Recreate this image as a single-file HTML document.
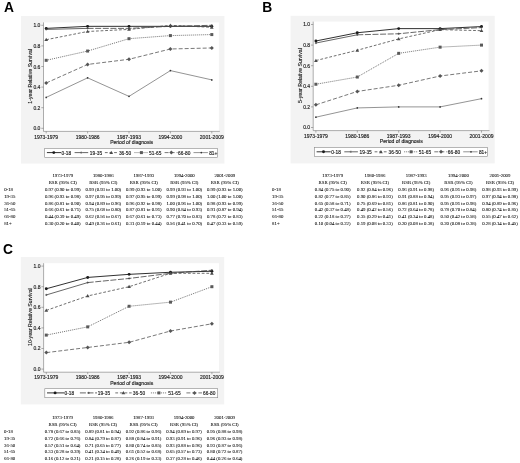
<!DOCTYPE html>
<html><head><meta charset="utf-8"><title>Relative survival figure</title>
<style>html,body{margin:0;padding:0;background:#fff;width:520px;height:463px;overflow:hidden} svg{display:block;filter:grayscale(1)}</style>
</head><body>
<svg width="520" height="463" viewBox="0 0 520 463"><style>.ax{font-family:"Liberation Sans",sans-serif;font-size:5.0px;fill:#222;stroke:#222;stroke-width:0.15px} .tb text{font-family:"Liberation Serif",serif;font-size:4.8px;fill:#000;stroke:#000;stroke-width:0.05px} .lb{font-family:"Liberation Sans",sans-serif;font-weight:bold;font-size:13.8px;fill:#000}</style><rect width="520" height="463" fill="#fff"/><rect x="21.0" y="16.0" width="203.40" height="147.60" fill="#f3f3f3"/>
<g transform="translate(0,0)">
<rect x="43.5" y="22.4" width="175.4" height="109.0" fill="#fff"/>
<path d="M43.5 22.4V131.4H219.8" fill="none" stroke="#777" stroke-width="0.6"/>
<path d="M41.3 128.30H43.5" stroke="#777" stroke-width="0.6"/>
<text x="40.4" y="130.30" text-anchor="end" class="ax">0.0</text>
<path d="M41.3 107.70H43.5" stroke="#777" stroke-width="0.6"/>
<text x="40.4" y="109.70" text-anchor="end" class="ax">0.2</text>
<path d="M41.3 87.10H43.5" stroke="#777" stroke-width="0.6"/>
<text x="40.4" y="89.10" text-anchor="end" class="ax">0.4</text>
<path d="M41.3 66.50H43.5" stroke="#777" stroke-width="0.6"/>
<text x="40.4" y="68.50" text-anchor="end" class="ax">0.6</text>
<path d="M41.3 45.90H43.5" stroke="#777" stroke-width="0.6"/>
<text x="40.4" y="47.90" text-anchor="end" class="ax">0.8</text>
<path d="M41.3 25.30H43.5" stroke="#777" stroke-width="0.6"/>
<text x="40.4" y="27.30" text-anchor="end" class="ax">1.0</text>
<path d="M46.2 131.4V133.4" stroke="#777" stroke-width="0.6"/>
<text x="46.2" y="138.7" text-anchor="middle" class="ax">1973-1979</text>
<path d="M87.6 131.4V133.4" stroke="#777" stroke-width="0.6"/>
<text x="87.6" y="138.7" text-anchor="middle" class="ax">1980-1986</text>
<path d="M129.0 131.4V133.4" stroke="#777" stroke-width="0.6"/>
<text x="129.0" y="138.7" text-anchor="middle" class="ax">1987-1993</text>
<path d="M170.4 131.4V133.4" stroke="#777" stroke-width="0.6"/>
<text x="170.4" y="138.7" text-anchor="middle" class="ax">1994-2000</text>
<path d="M211.8 131.4V133.4" stroke="#777" stroke-width="0.6"/>
<text x="211.8" y="138.7" text-anchor="middle" class="ax">2001-2009</text>
<text x="131.6" y="144.0" text-anchor="middle" class="ax" style="font-size:5.05px">Period of diagnosis</text>
<text transform="translate(31.9,76.3) rotate(-90)" text-anchor="middle" class="ax" style="font-size:5.2px">1-year Relative Survival</text>
<path d="M46.20 28.39L87.60 26.33L129.00 26.33L170.40 26.33L211.80 26.33" fill="none" stroke="#1a1a1a" stroke-width="0.9" stroke-linejoin="round"/>
<circle cx="46.20" cy="28.39" r="1.45" fill="#1a1a1a"/>
<circle cx="87.60" cy="26.33" r="1.45" fill="#1a1a1a"/>
<circle cx="129.00" cy="26.33" r="1.45" fill="#1a1a1a"/>
<circle cx="170.40" cy="26.33" r="1.45" fill="#1a1a1a"/>
<circle cx="211.80" cy="26.33" r="1.45" fill="#1a1a1a"/>
<path d="M46.20 29.42L87.60 28.39" fill="none" stroke="#404040" stroke-width="0.8" stroke-linejoin="round"/>
<path d="M87.60 28.39L129.00 28.39L170.40 26.33L211.80 25.30" fill="none" stroke="#404040" stroke-width="0.8" stroke-dasharray="6,1.6" stroke-linejoin="round"/>
<path d="M45.10 29.42H47.30M46.20 28.32V30.52" stroke="#404040" stroke-width="0.7" fill="none"/>
<path d="M86.50 28.39H88.70M87.60 27.29V29.49" stroke="#404040" stroke-width="0.7" fill="none"/>
<path d="M127.90 28.39H130.10M129.00 27.29V29.49" stroke="#404040" stroke-width="0.7" fill="none"/>
<path d="M169.30 26.33H171.50M170.40 25.23V27.43" stroke="#404040" stroke-width="0.7" fill="none"/>
<path d="M210.70 25.30H212.90M211.80 24.20V26.40" stroke="#404040" stroke-width="0.7" fill="none"/>
<path d="M46.20 39.72L87.60 31.48L129.00 29.42L170.40 25.30L211.80 27.36" fill="none" stroke="#4a4a4a" stroke-width="0.8" stroke-dasharray="2.8,1.8" stroke-linejoin="round"/>
<path d="M46.20 37.87L48.05 41.11L44.35 41.11Z" fill="#4a4a4a"/>
<path d="M87.60 29.63L89.45 32.87L85.75 32.87Z" fill="#4a4a4a"/>
<path d="M129.00 27.57L130.85 30.81L127.15 30.81Z" fill="#4a4a4a"/>
<path d="M170.40 23.45L172.25 26.69L168.55 26.69Z" fill="#4a4a4a"/>
<path d="M211.80 25.51L213.65 28.75L209.95 28.75Z" fill="#4a4a4a"/>
<path d="M46.20 60.32L87.60 51.05L129.00 38.69L170.40 35.60L211.80 34.57" fill="none" stroke="#5a5a5a" stroke-width="0.85" stroke-dasharray="1,1" stroke-linejoin="round"/>
<rect x="44.70" y="58.82" width="3.00" height="3.00" fill="#5a5a5a"/>
<rect x="86.10" y="49.55" width="3.00" height="3.00" fill="#5a5a5a"/>
<rect x="127.50" y="37.19" width="3.00" height="3.00" fill="#5a5a5a"/>
<rect x="168.90" y="34.10" width="3.00" height="3.00" fill="#5a5a5a"/>
<rect x="210.30" y="33.07" width="3.00" height="3.00" fill="#5a5a5a"/>
<path d="M46.20 82.98L87.60 64.44L129.00 59.29L170.40 48.99L211.80 47.96" fill="none" stroke="#555" stroke-width="0.8" stroke-dasharray="4,2" stroke-linejoin="round"/>
<path d="M46.20 80.98L48.20 82.98L46.20 84.98L44.20 82.98Z" fill="#555"/>
<path d="M87.60 62.44L89.60 64.44L87.60 66.44L85.60 64.44Z" fill="#555"/>
<path d="M129.00 57.29L131.00 59.29L129.00 61.29L127.00 59.29Z" fill="#555"/>
<path d="M170.40 46.99L172.40 48.99L170.40 50.99L168.40 48.99Z" fill="#555"/>
<path d="M211.80 45.96L213.80 47.96L211.80 49.96L209.80 47.96Z" fill="#555"/>
<path d="M46.20 97.40L87.60 77.83L129.00 96.37L170.40 70.62L211.80 79.89" fill="none" stroke="#666" stroke-width="0.7" stroke-linejoin="round"/>
<circle cx="46.20" cy="97.40" r="0.85" fill="#333"/>
<circle cx="87.60" cy="77.83" r="0.85" fill="#333"/>
<circle cx="129.00" cy="96.37" r="0.85" fill="#333"/>
<circle cx="170.40" cy="70.62" r="0.85" fill="#333"/>
<circle cx="211.80" cy="79.89" r="0.85" fill="#333"/>
<g transform="translate(0,0)">
<rect x="44.7" y="148.4" width="172.9" height="9.0" fill="#fff" stroke="#888" stroke-width="0.6"/>
<path d="M46.90 152.60L61.00 152.60" fill="none" stroke="#1a1a1a" stroke-width="0.9" stroke-linejoin="round"/>
<circle cx="53.80" cy="152.60" r="1.45" fill="#1a1a1a"/>
<text x="61.50" y="154.90" class="ax" style="font-size:4.8px">0-18</text>
<path d="M74.60 152.60L88.20 152.60" fill="none" stroke="#404040" stroke-width="0.8" stroke-dasharray="6,1.6" stroke-linejoin="round"/>
<path d="M80.10 152.60H82.30M81.20 151.50V153.70" stroke="#404040" stroke-width="0.7" fill="none"/>
<text x="89.80" y="154.90" class="ax" style="font-size:4.8px">19-35</text>
<path d="M104.90 152.60L117.30 152.60" fill="none" stroke="#4a4a4a" stroke-width="0.8" stroke-dasharray="2.8,1.8" stroke-linejoin="round"/>
<path d="M111.25 150.75L113.10 153.99L109.40 153.99Z" fill="#4a4a4a"/>
<text x="118.90" y="154.90" class="ax" style="font-size:4.8px">36-50</text>
<path d="M134.50 152.60L148.00 152.60" fill="none" stroke="#5a5a5a" stroke-width="0.85" stroke-dasharray="1,1" stroke-linejoin="round"/>
<rect x="139.90" y="151.10" width="3.00" height="3.00" fill="#5a5a5a"/>
<text x="149.10" y="154.90" class="ax" style="font-size:4.8px">51-65</text>
<path d="M164.60 152.60L177.60 152.60" fill="none" stroke="#555" stroke-width="0.8" stroke-dasharray="4,2" stroke-linejoin="round"/>
<path d="M171.30 150.60L173.30 152.60L171.30 154.60L169.30 152.60Z" fill="#555"/>
<text x="178.10" y="154.90" class="ax" style="font-size:4.8px">66-80</text>
<path d="M193.50 152.60L207.90 152.60" fill="none" stroke="#666" stroke-width="0.7" stroke-linejoin="round"/>
<circle cx="201.30" cy="152.60" r="0.85" fill="#333"/>
<text x="209.20" y="154.90" class="ax" style="font-size:4.8px">81+</text>
</g>
</g><g transform="translate(0,0)" class="tb">
<text x="62.8" y="177.3" text-anchor="middle">1973-1979</text>
<text x="62.8" y="184.3" text-anchor="middle">RSR (95% CI)</text>
<text x="103.3" y="177.3" text-anchor="middle">1980-1986</text>
<text x="103.3" y="184.3" text-anchor="middle">RSR (95% CI)</text>
<text x="143.8" y="177.3" text-anchor="middle">1987-1993</text>
<text x="143.8" y="184.3" text-anchor="middle">RSR (95% CI)</text>
<text x="184.3" y="177.3" text-anchor="middle">1994-2000</text>
<text x="184.3" y="184.3" text-anchor="middle">RSR (95% CI)</text>
<text x="224.8" y="177.3" text-anchor="middle">2001-2009</text>
<text x="224.8" y="184.3" text-anchor="middle">RSR (95% CI)</text>
<text x="4.2" y="191.10">0-18</text>
<text x="62.8" y="191.10" text-anchor="middle">0.97 (0.90 to 0.99)</text>
<text x="103.3" y="191.10" text-anchor="middle">0.99 (0.93 to 1.00)</text>
<text x="143.8" y="191.10" text-anchor="middle">0.99 (0.93 to 1.00)</text>
<text x="184.3" y="191.10" text-anchor="middle">0.99 (0.93 to 1.00)</text>
<text x="224.8" y="191.10" text-anchor="middle">0.99 (0.93 to 1.00)</text>
<text x="4.2" y="197.85">19-35</text>
<text x="62.8" y="197.85" text-anchor="middle">0.96 (0.93 to 0.98)</text>
<text x="103.3" y="197.85" text-anchor="middle">0.97 (0.95 to 0.99)</text>
<text x="143.8" y="197.85" text-anchor="middle">0.97 (0.95 to 0.99)</text>
<text x="184.3" y="197.85" text-anchor="middle">0.99 (0.98 to 1.00)</text>
<text x="224.8" y="197.85" text-anchor="middle">1.00 (1.00 to 1.00)</text>
<text x="4.2" y="204.60">36-50</text>
<text x="62.8" y="204.60" text-anchor="middle">0.86 (0.81 to 0.90)</text>
<text x="103.3" y="204.60" text-anchor="middle">0.94 (0.89 to 0.96)</text>
<text x="143.8" y="204.60" text-anchor="middle">0.96 (0.92 to 0.98)</text>
<text x="184.3" y="204.60" text-anchor="middle">1.00 (0.96 to 1.00)</text>
<text x="224.8" y="204.60" text-anchor="middle">0.98 (0.93 to 0.99)</text>
<text x="4.2" y="211.35">51-65</text>
<text x="62.8" y="211.35" text-anchor="middle">0.66 (0.61 to 0.71)</text>
<text x="103.3" y="211.35" text-anchor="middle">0.75 (0.68 to 0.80)</text>
<text x="143.8" y="211.35" text-anchor="middle">0.87 (0.81 to 0.91)</text>
<text x="184.3" y="211.35" text-anchor="middle">0.90 (0.84 to 0.93)</text>
<text x="224.8" y="211.35" text-anchor="middle">0.91 (0.87 to 0.94)</text>
<text x="4.2" y="218.10">66-80</text>
<text x="62.8" y="218.10" text-anchor="middle">0.44 (0.39 to 0.49)</text>
<text x="103.3" y="218.10" text-anchor="middle">0.62 (0.56 to 0.67)</text>
<text x="143.8" y="218.10" text-anchor="middle">0.67 (0.61 to 0.73)</text>
<text x="184.3" y="218.10" text-anchor="middle">0.77 (0.70 to 0.83)</text>
<text x="224.8" y="218.10" text-anchor="middle">0.78 (0.72 to 0.83)</text>
<text x="4.2" y="224.85">81+</text>
<text x="62.8" y="224.85" text-anchor="middle">0.30 (0.20 to 0.40)</text>
<text x="103.3" y="224.85" text-anchor="middle">0.49 (0.36 to 0.61)</text>
<text x="143.8" y="224.85" text-anchor="middle">0.31 (0.19 to 0.44)</text>
<text x="184.3" y="224.85" text-anchor="middle">0.56 (0.41 to 0.70)</text>
<text x="224.8" y="224.85" text-anchor="middle">0.47 (0.33 to 0.59)</text>
</g><rect x="290.6" y="15.8" width="204.10" height="147.60" fill="#f3f3f3"/>
<g transform="translate(269.7,-0.8)">
<rect x="43.5" y="22.4" width="175.4" height="109.0" fill="#fff"/>
<path d="M43.5 22.4V131.4H219.8" fill="none" stroke="#777" stroke-width="0.6"/>
<path d="M41.3 128.30H43.5" stroke="#777" stroke-width="0.6"/>
<text x="40.4" y="130.30" text-anchor="end" class="ax">0.0</text>
<path d="M41.3 107.70H43.5" stroke="#777" stroke-width="0.6"/>
<text x="40.4" y="109.70" text-anchor="end" class="ax">0.2</text>
<path d="M41.3 87.10H43.5" stroke="#777" stroke-width="0.6"/>
<text x="40.4" y="89.10" text-anchor="end" class="ax">0.4</text>
<path d="M41.3 66.50H43.5" stroke="#777" stroke-width="0.6"/>
<text x="40.4" y="68.50" text-anchor="end" class="ax">0.6</text>
<path d="M41.3 45.90H43.5" stroke="#777" stroke-width="0.6"/>
<text x="40.4" y="47.90" text-anchor="end" class="ax">0.8</text>
<path d="M41.3 25.30H43.5" stroke="#777" stroke-width="0.6"/>
<text x="40.4" y="27.30" text-anchor="end" class="ax">1.0</text>
<path d="M46.2 131.4V133.4" stroke="#777" stroke-width="0.6"/>
<text x="46.2" y="138.7" text-anchor="middle" class="ax">1973-1979</text>
<path d="M87.6 131.4V133.4" stroke="#777" stroke-width="0.6"/>
<text x="87.6" y="138.7" text-anchor="middle" class="ax">1980-1986</text>
<path d="M129.0 131.4V133.4" stroke="#777" stroke-width="0.6"/>
<text x="129.0" y="138.7" text-anchor="middle" class="ax">1987-1993</text>
<path d="M170.4 131.4V133.4" stroke="#777" stroke-width="0.6"/>
<text x="170.4" y="138.7" text-anchor="middle" class="ax">1994-2000</text>
<path d="M211.8 131.4V133.4" stroke="#777" stroke-width="0.6"/>
<text x="211.8" y="138.7" text-anchor="middle" class="ax">2001-2009</text>
<text x="131.6" y="144.0" text-anchor="middle" class="ax" style="font-size:5.05px">Period of diagnosis</text>
<text transform="translate(31.9,76.3) rotate(-90)" text-anchor="middle" class="ax" style="font-size:5.2px">5-year Relative Survival</text>
<path d="M46.20 41.78L87.60 33.54L129.00 29.42L170.40 29.42L211.80 27.36" fill="none" stroke="#1a1a1a" stroke-width="0.9" stroke-linejoin="round"/>
<circle cx="46.20" cy="41.78" r="1.45" fill="#1a1a1a"/>
<circle cx="87.60" cy="33.54" r="1.45" fill="#1a1a1a"/>
<circle cx="129.00" cy="29.42" r="1.45" fill="#1a1a1a"/>
<circle cx="170.40" cy="29.42" r="1.45" fill="#1a1a1a"/>
<circle cx="211.80" cy="27.36" r="1.45" fill="#1a1a1a"/>
<path d="M46.20 43.84L87.60 35.60" fill="none" stroke="#404040" stroke-width="0.8" stroke-linejoin="round"/>
<path d="M87.60 35.60L129.00 34.57L170.40 30.45L211.80 28.39" fill="none" stroke="#404040" stroke-width="0.8" stroke-dasharray="6,1.6" stroke-linejoin="round"/>
<path d="M45.10 43.84H47.30M46.20 42.74V44.94" stroke="#404040" stroke-width="0.7" fill="none"/>
<path d="M86.50 35.60H88.70M87.60 34.50V36.70" stroke="#404040" stroke-width="0.7" fill="none"/>
<path d="M127.90 34.57H130.10M129.00 33.47V35.67" stroke="#404040" stroke-width="0.7" fill="none"/>
<path d="M169.30 30.45H171.50M170.40 29.35V31.55" stroke="#404040" stroke-width="0.7" fill="none"/>
<path d="M210.70 28.39H212.90M211.80 27.29V29.49" stroke="#404040" stroke-width="0.7" fill="none"/>
<path d="M46.20 61.35L87.60 51.05L129.00 39.72L170.40 30.45L211.80 31.48" fill="none" stroke="#4a4a4a" stroke-width="0.8" stroke-dasharray="2.8,1.8" stroke-linejoin="round"/>
<path d="M46.20 59.50L48.05 62.74L44.35 62.74Z" fill="#4a4a4a"/>
<path d="M87.60 49.20L89.45 52.44L85.75 52.44Z" fill="#4a4a4a"/>
<path d="M129.00 37.87L130.85 41.11L127.15 41.11Z" fill="#4a4a4a"/>
<path d="M170.40 28.60L172.25 31.84L168.55 31.84Z" fill="#4a4a4a"/>
<path d="M211.80 29.63L213.65 32.87L209.95 32.87Z" fill="#4a4a4a"/>
<path d="M46.20 85.04L87.60 77.83L129.00 54.14L170.40 47.96L211.80 45.90" fill="none" stroke="#5a5a5a" stroke-width="0.85" stroke-dasharray="1,1" stroke-linejoin="round"/>
<rect x="44.70" y="83.54" width="3.00" height="3.00" fill="#5a5a5a"/>
<rect x="86.10" y="76.33" width="3.00" height="3.00" fill="#5a5a5a"/>
<rect x="127.50" y="52.64" width="3.00" height="3.00" fill="#5a5a5a"/>
<rect x="168.90" y="46.46" width="3.00" height="3.00" fill="#5a5a5a"/>
<rect x="210.30" y="44.40" width="3.00" height="3.00" fill="#5a5a5a"/>
<path d="M46.20 105.64L87.60 92.25L129.00 86.07L170.40 76.80L211.80 71.65" fill="none" stroke="#555" stroke-width="0.8" stroke-dasharray="4,2" stroke-linejoin="round"/>
<path d="M46.20 103.64L48.20 105.64L46.20 107.64L44.20 105.64Z" fill="#555"/>
<path d="M87.60 90.25L89.60 92.25L87.60 94.25L85.60 92.25Z" fill="#555"/>
<path d="M129.00 84.07L131.00 86.07L129.00 88.07L127.00 86.07Z" fill="#555"/>
<path d="M170.40 74.80L172.40 76.80L170.40 78.80L168.40 76.80Z" fill="#555"/>
<path d="M211.80 69.65L213.80 71.65L211.80 73.65L209.80 71.65Z" fill="#555"/>
<path d="M46.20 118.00L87.60 108.73L129.00 107.70L170.40 107.70L211.80 99.46" fill="none" stroke="#666" stroke-width="0.7" stroke-linejoin="round"/>
<circle cx="46.20" cy="118.00" r="0.85" fill="#333"/>
<circle cx="87.60" cy="108.73" r="0.85" fill="#333"/>
<circle cx="129.00" cy="107.70" r="0.85" fill="#333"/>
<circle cx="170.40" cy="107.70" r="0.85" fill="#333"/>
<circle cx="211.80" cy="99.46" r="0.85" fill="#333"/>
<g transform="translate(0,0)">
<rect x="44.7" y="148.4" width="172.9" height="9.0" fill="#fff" stroke="#888" stroke-width="0.6"/>
<path d="M46.90 152.60L61.00 152.60" fill="none" stroke="#1a1a1a" stroke-width="0.9" stroke-linejoin="round"/>
<circle cx="53.80" cy="152.60" r="1.45" fill="#1a1a1a"/>
<text x="61.50" y="154.90" class="ax" style="font-size:4.8px">0-18</text>
<path d="M74.60 152.60L88.20 152.60" fill="none" stroke="#404040" stroke-width="0.8" stroke-dasharray="6,1.6" stroke-linejoin="round"/>
<path d="M80.10 152.60H82.30M81.20 151.50V153.70" stroke="#404040" stroke-width="0.7" fill="none"/>
<text x="89.80" y="154.90" class="ax" style="font-size:4.8px">19-35</text>
<path d="M104.90 152.60L117.30 152.60" fill="none" stroke="#4a4a4a" stroke-width="0.8" stroke-dasharray="2.8,1.8" stroke-linejoin="round"/>
<path d="M111.25 150.75L113.10 153.99L109.40 153.99Z" fill="#4a4a4a"/>
<text x="118.90" y="154.90" class="ax" style="font-size:4.8px">36-50</text>
<path d="M134.50 152.60L148.00 152.60" fill="none" stroke="#5a5a5a" stroke-width="0.85" stroke-dasharray="1,1" stroke-linejoin="round"/>
<rect x="139.90" y="151.10" width="3.00" height="3.00" fill="#5a5a5a"/>
<text x="149.10" y="154.90" class="ax" style="font-size:4.8px">51-65</text>
<path d="M164.60 152.60L177.60 152.60" fill="none" stroke="#555" stroke-width="0.8" stroke-dasharray="4,2" stroke-linejoin="round"/>
<path d="M171.30 150.60L173.30 152.60L171.30 154.60L169.30 152.60Z" fill="#555"/>
<text x="178.10" y="154.90" class="ax" style="font-size:4.8px">66-80</text>
<path d="M193.50 152.60L207.90 152.60" fill="none" stroke="#666" stroke-width="0.7" stroke-linejoin="round"/>
<circle cx="201.30" cy="152.60" r="0.85" fill="#333"/>
<text x="209.20" y="154.90" class="ax" style="font-size:4.8px">81+</text>
</g>
</g><g transform="translate(269.5,0)" class="tb">
<text x="63.19999999999999" y="177.3" text-anchor="middle">1973-1979</text>
<text x="63.19999999999999" y="184.3" text-anchor="middle">RSR (95% CI)</text>
<text x="105.39999999999998" y="177.3" text-anchor="middle">1980-1986</text>
<text x="105.39999999999998" y="184.3" text-anchor="middle">RSR (95% CI)</text>
<text x="146.7" y="177.3" text-anchor="middle">1987-1993</text>
<text x="146.7" y="184.3" text-anchor="middle">RSR (95% CI)</text>
<text x="188.95" y="177.3" text-anchor="middle">1994-2000</text>
<text x="188.95" y="184.3" text-anchor="middle">RSR (95% CI)</text>
<text x="230.5" y="177.3" text-anchor="middle">2001-2009</text>
<text x="230.5" y="184.3" text-anchor="middle">RSR (95% CI)</text>
<text x="2.6" y="191.10">0-18</text>
<text x="63.19999999999999" y="191.10" text-anchor="middle">0.84 (0.75 to 0.90)</text>
<text x="105.39999999999998" y="191.10" text-anchor="middle">0.92 (0.84 to 0.96)</text>
<text x="146.7" y="191.10" text-anchor="middle">0.96 (0.91 to 0.98)</text>
<text x="188.95" y="191.10" text-anchor="middle">0.96 (0.91 to 0.98)</text>
<text x="230.5" y="191.10" text-anchor="middle">0.98 (0.93 to 0.99)</text>
<text x="2.6" y="197.85">19-35</text>
<text x="63.19999999999999" y="197.85" text-anchor="middle">0.82 (0.77 to 0.85)</text>
<text x="105.39999999999998" y="197.85" text-anchor="middle">0.90 (0.86 to 0.93)</text>
<text x="146.7" y="197.85" text-anchor="middle">0.91 (0.88 to 0.94)</text>
<text x="188.95" y="197.85" text-anchor="middle">0.95 (0.93 to 0.97)</text>
<text x="230.5" y="197.85" text-anchor="middle">0.97 (0.94 to 0.98)</text>
<text x="2.6" y="204.60">36-50</text>
<text x="63.19999999999999" y="204.60" text-anchor="middle">0.65 (0.58 to 0.71)</text>
<text x="105.39999999999998" y="204.60" text-anchor="middle">0.75 (0.69 to 0.81)</text>
<text x="146.7" y="204.60" text-anchor="middle">0.86 (0.81 to 0.90)</text>
<text x="188.95" y="204.60" text-anchor="middle">0.95 (0.91 to 0.98)</text>
<text x="230.5" y="204.60" text-anchor="middle">0.94 (0.89 to 0.96)</text>
<text x="2.6" y="211.35">51-65</text>
<text x="63.19999999999999" y="211.35" text-anchor="middle">0.42 (0.37 to 0.48)</text>
<text x="105.39999999999998" y="211.35" text-anchor="middle">0.49 (0.42 to 0.56)</text>
<text x="146.7" y="211.35" text-anchor="middle">0.72 (0.64 to 0.78)</text>
<text x="188.95" y="211.35" text-anchor="middle">0.78 (0.70 to 0.84)</text>
<text x="230.5" y="211.35" text-anchor="middle">0.80 (0.74 to 0.85)</text>
<text x="2.6" y="218.10">66-80</text>
<text x="63.19999999999999" y="218.10" text-anchor="middle">0.22 (0.18 to 0.27)</text>
<text x="105.39999999999998" y="218.10" text-anchor="middle">0.35 (0.29 to 0.41)</text>
<text x="146.7" y="218.10" text-anchor="middle">0.41 (0.34 to 0.48)</text>
<text x="188.95" y="218.10" text-anchor="middle">0.50 (0.42 to 0.58)</text>
<text x="230.5" y="218.10" text-anchor="middle">0.55 (0.47 to 0.62)</text>
<text x="2.6" y="224.85">81+</text>
<text x="63.19999999999999" y="224.85" text-anchor="middle">0.10 (0.04 to 0.22)</text>
<text x="105.39999999999998" y="224.85" text-anchor="middle">0.19 (0.08 to 0.33)</text>
<text x="146.7" y="224.85" text-anchor="middle">0.20 (0.08 to 0.38)</text>
<text x="188.95" y="224.85" text-anchor="middle">0.20 (0.08 to 0.38)</text>
<text x="230.5" y="224.85" text-anchor="middle">0.28 (0.14 to 0.45)</text>
</g><rect x="20.8" y="257.0" width="203.40" height="147.40" fill="#f3f3f3"/>
<g transform="translate(0.1,240.8)">
<rect x="43.5" y="22.4" width="175.4" height="109.0" fill="#fff"/>
<path d="M43.5 22.4V131.4H219.8" fill="none" stroke="#777" stroke-width="0.6"/>
<path d="M41.3 128.30H43.5" stroke="#777" stroke-width="0.6"/>
<text x="40.4" y="130.30" text-anchor="end" class="ax">0.0</text>
<path d="M41.3 107.70H43.5" stroke="#777" stroke-width="0.6"/>
<text x="40.4" y="109.70" text-anchor="end" class="ax">0.2</text>
<path d="M41.3 87.10H43.5" stroke="#777" stroke-width="0.6"/>
<text x="40.4" y="89.10" text-anchor="end" class="ax">0.4</text>
<path d="M41.3 66.50H43.5" stroke="#777" stroke-width="0.6"/>
<text x="40.4" y="68.50" text-anchor="end" class="ax">0.6</text>
<path d="M41.3 45.90H43.5" stroke="#777" stroke-width="0.6"/>
<text x="40.4" y="47.90" text-anchor="end" class="ax">0.8</text>
<path d="M41.3 25.30H43.5" stroke="#777" stroke-width="0.6"/>
<text x="40.4" y="27.30" text-anchor="end" class="ax">1.0</text>
<path d="M46.2 131.4V133.4" stroke="#777" stroke-width="0.6"/>
<text x="46.2" y="138.7" text-anchor="middle" class="ax">1973-1979</text>
<path d="M87.6 131.4V133.4" stroke="#777" stroke-width="0.6"/>
<text x="87.6" y="138.7" text-anchor="middle" class="ax">1980-1986</text>
<path d="M129.0 131.4V133.4" stroke="#777" stroke-width="0.6"/>
<text x="129.0" y="138.7" text-anchor="middle" class="ax">1987-1993</text>
<path d="M170.4 131.4V133.4" stroke="#777" stroke-width="0.6"/>
<text x="170.4" y="138.7" text-anchor="middle" class="ax">1994-2000</text>
<path d="M211.8 131.4V133.4" stroke="#777" stroke-width="0.6"/>
<text x="211.8" y="138.7" text-anchor="middle" class="ax">2001-2009</text>
<text x="131.6" y="144.0" text-anchor="middle" class="ax" style="font-size:5.05px">Period of diagnosis</text>
<text transform="translate(31.9,76.3) rotate(-90)" text-anchor="middle" class="ax" style="font-size:5.2px">10-year Relative Survival</text>
<path d="M46.20 47.96L87.60 36.63L129.00 33.54L170.40 31.48L211.80 30.45" fill="none" stroke="#1a1a1a" stroke-width="0.9" stroke-linejoin="round"/>
<circle cx="46.20" cy="47.96" r="1.45" fill="#1a1a1a"/>
<circle cx="87.60" cy="36.63" r="1.45" fill="#1a1a1a"/>
<circle cx="129.00" cy="33.54" r="1.45" fill="#1a1a1a"/>
<circle cx="170.40" cy="31.48" r="1.45" fill="#1a1a1a"/>
<circle cx="211.80" cy="30.45" r="1.45" fill="#1a1a1a"/>
<path d="M46.20 54.14L87.60 41.78" fill="none" stroke="#404040" stroke-width="0.8" stroke-linejoin="round"/>
<path d="M87.60 41.78L129.00 37.66L170.40 32.51L211.80 29.42" fill="none" stroke="#404040" stroke-width="0.8" stroke-dasharray="6,1.6" stroke-linejoin="round"/>
<path d="M45.10 54.14H47.30M46.20 53.04V55.24" stroke="#404040" stroke-width="0.7" fill="none"/>
<path d="M86.50 41.78H88.70M87.60 40.68V42.88" stroke="#404040" stroke-width="0.7" fill="none"/>
<path d="M127.90 37.66H130.10M129.00 36.56V38.76" stroke="#404040" stroke-width="0.7" fill="none"/>
<path d="M169.30 32.51H171.50M170.40 31.41V33.61" stroke="#404040" stroke-width="0.7" fill="none"/>
<path d="M210.70 29.42H212.90M211.80 28.32V30.52" stroke="#404040" stroke-width="0.7" fill="none"/>
<path d="M46.20 69.59L87.60 55.17L129.00 45.90L170.40 32.51L211.80 32.51" fill="none" stroke="#4a4a4a" stroke-width="0.8" stroke-dasharray="2.8,1.8" stroke-linejoin="round"/>
<path d="M46.20 67.74L48.05 70.98L44.35 70.98Z" fill="#4a4a4a"/>
<path d="M87.60 53.32L89.45 56.56L85.75 56.56Z" fill="#4a4a4a"/>
<path d="M129.00 44.05L130.85 47.29L127.15 47.29Z" fill="#4a4a4a"/>
<path d="M170.40 30.66L172.25 33.90L168.55 33.90Z" fill="#4a4a4a"/>
<path d="M211.80 30.66L213.65 33.90L209.95 33.90Z" fill="#4a4a4a"/>
<path d="M46.20 94.31L87.60 86.07L129.00 65.47L170.40 61.35L211.80 45.90" fill="none" stroke="#5a5a5a" stroke-width="0.85" stroke-dasharray="1,1" stroke-linejoin="round"/>
<rect x="44.70" y="92.81" width="3.00" height="3.00" fill="#5a5a5a"/>
<rect x="86.10" y="84.57" width="3.00" height="3.00" fill="#5a5a5a"/>
<rect x="127.50" y="63.97" width="3.00" height="3.00" fill="#5a5a5a"/>
<rect x="168.90" y="59.85" width="3.00" height="3.00" fill="#5a5a5a"/>
<rect x="210.30" y="44.40" width="3.00" height="3.00" fill="#5a5a5a"/>
<path d="M46.20 111.82L87.60 106.67L129.00 101.52L170.40 90.19L211.80 82.98" fill="none" stroke="#555" stroke-width="0.8" stroke-dasharray="4,2" stroke-linejoin="round"/>
<path d="M46.20 109.82L48.20 111.82L46.20 113.82L44.20 111.82Z" fill="#555"/>
<path d="M87.60 104.67L89.60 106.67L87.60 108.67L85.60 106.67Z" fill="#555"/>
<path d="M129.00 99.52L131.00 101.52L129.00 103.52L127.00 101.52Z" fill="#555"/>
<path d="M170.40 88.19L172.40 90.19L170.40 92.19L168.40 90.19Z" fill="#555"/>
<path d="M211.80 80.98L213.80 82.98L211.80 84.98L209.80 82.98Z" fill="#555"/>
<g transform="translate(0,-0.5)">
<rect x="44.7" y="148.4" width="172.9" height="9.0" fill="#fff" stroke="#888" stroke-width="0.6"/>
<path d="M46.90 152.60L64.20 152.60" fill="none" stroke="#1a1a1a" stroke-width="0.9" stroke-linejoin="round"/>
<circle cx="55.00" cy="152.60" r="1.45" fill="#1a1a1a"/>
<text x="64.40" y="154.90" class="ax" style="font-size:4.8px">0-18</text>
<path d="M79.80 152.60L96.90 152.60" fill="none" stroke="#404040" stroke-width="0.8" stroke-dasharray="6,1.6" stroke-linejoin="round"/>
<path d="M87.50 152.60H89.70M88.60 151.50V153.70" stroke="#404040" stroke-width="0.7" fill="none"/>
<text x="97.70" y="154.90" class="ax" style="font-size:4.8px">19-35</text>
<path d="M115.20 152.60L131.60 152.60" fill="none" stroke="#4a4a4a" stroke-width="0.8" stroke-dasharray="2.8,1.8" stroke-linejoin="round"/>
<path d="M123.30 150.75L125.15 153.99L121.45 153.99Z" fill="#4a4a4a"/>
<text x="132.70" y="154.90" class="ax" style="font-size:4.8px">36-50</text>
<path d="M150.80 152.60L166.90 152.60" fill="none" stroke="#5a5a5a" stroke-width="0.85" stroke-dasharray="1,1" stroke-linejoin="round"/>
<rect x="157.30" y="151.10" width="3.00" height="3.00" fill="#5a5a5a"/>
<text x="168.20" y="154.90" class="ax" style="font-size:4.8px">51-65</text>
<path d="M186.30 152.60L201.90 152.60" fill="none" stroke="#555" stroke-width="0.8" stroke-dasharray="4,2" stroke-linejoin="round"/>
<path d="M194.40 150.60L196.40 152.60L194.40 154.60L192.40 152.60Z" fill="#555"/>
<text x="203.00" y="154.90" class="ax" style="font-size:4.8px">66-80</text>
</g>
</g><g transform="translate(-0.2,241.7)" class="tb">
<text x="62.8" y="177.3" text-anchor="middle">1973-1979</text>
<text x="62.8" y="184.3" text-anchor="middle">RSR (95% CI)</text>
<text x="103.3" y="177.3" text-anchor="middle">1980-1986</text>
<text x="103.3" y="184.3" text-anchor="middle">RSR (95% CI)</text>
<text x="143.8" y="177.3" text-anchor="middle">1987-1993</text>
<text x="143.8" y="184.3" text-anchor="middle">RSR (95% CI)</text>
<text x="184.3" y="177.3" text-anchor="middle">1994-2000</text>
<text x="184.3" y="184.3" text-anchor="middle">RSR (95% CI)</text>
<text x="224.8" y="177.3" text-anchor="middle">2001-2009</text>
<text x="224.8" y="184.3" text-anchor="middle">RSR (95% CI)</text>
<text x="4.2" y="191.10">0-18</text>
<text x="62.8" y="191.10" text-anchor="middle">0.78 (0.67 to 0.85)</text>
<text x="103.3" y="191.10" text-anchor="middle">0.89 (0.81 to 0.94)</text>
<text x="143.8" y="191.10" text-anchor="middle">0.92 (0.86 to 0.96)</text>
<text x="184.3" y="191.10" text-anchor="middle">0.94 (0.89 to 0.97)</text>
<text x="224.8" y="191.10" text-anchor="middle">0.95 (0.88 to 0.98)</text>
<text x="4.2" y="197.97">19-35</text>
<text x="62.8" y="197.97" text-anchor="middle">0.72 (0.66 to 0.76)</text>
<text x="103.3" y="197.97" text-anchor="middle">0.84 (0.79 to 0.87)</text>
<text x="143.8" y="197.97" text-anchor="middle">0.88 (0.84 to 0.91)</text>
<text x="184.3" y="197.97" text-anchor="middle">0.93 (0.91 to 0.96)</text>
<text x="224.8" y="197.97" text-anchor="middle">0.96 (0.93 to 0.98)</text>
<text x="4.2" y="204.84">36-50</text>
<text x="62.8" y="204.84" text-anchor="middle">0.57 (0.51 to 0.64)</text>
<text x="103.3" y="204.84" text-anchor="middle">0.71 (0.65 to 0.77)</text>
<text x="143.8" y="204.84" text-anchor="middle">0.80 (0.74 to 0.85)</text>
<text x="184.3" y="204.84" text-anchor="middle">0.93 (0.88 to 0.96)</text>
<text x="224.8" y="204.84" text-anchor="middle">0.93 (0.87 to 0.96)</text>
<text x="4.2" y="211.71">51-65</text>
<text x="62.8" y="211.71" text-anchor="middle">0.33 (0.28 to 0.39)</text>
<text x="103.3" y="211.71" text-anchor="middle">0.41 (0.34 to 0.49)</text>
<text x="143.8" y="211.71" text-anchor="middle">0.61 (0.52 to 0.68)</text>
<text x="184.3" y="211.71" text-anchor="middle">0.65 (0.57 to 0.73)</text>
<text x="224.8" y="211.71" text-anchor="middle">0.80 (0.72 to 0.87)</text>
<text x="4.2" y="218.58">66-80</text>
<text x="62.8" y="218.58" text-anchor="middle">0.16 (0.12 to 0.21)</text>
<text x="103.3" y="218.58" text-anchor="middle">0.21 (0.15 to 0.28)</text>
<text x="143.8" y="218.58" text-anchor="middle">0.26 (0.19 to 0.33)</text>
<text x="184.3" y="218.58" text-anchor="middle">0.37 (0.28 to 0.46)</text>
<text x="224.8" y="218.58" text-anchor="middle">0.44 (0.26 to 0.64)</text>
</g><text x="3.9" y="11.7" class="lb">A</text><text x="262.2" y="12.1" class="lb">B</text><text x="2.9" y="253.8" class="lb">C</text></svg>
</body></html>
